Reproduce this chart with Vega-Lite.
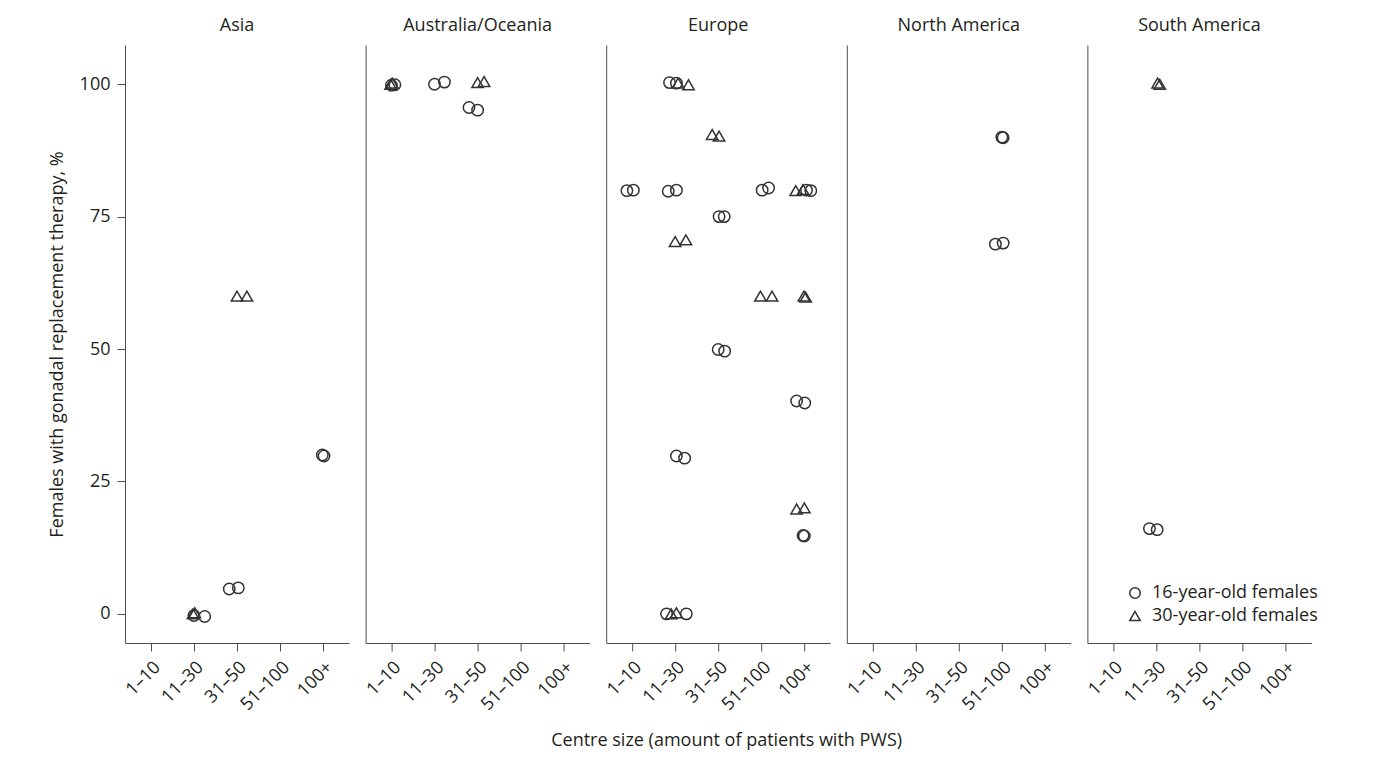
{
  "$schema": "https://vega.github.io/schema/vega-lite/v6.json",
  "padding": {"left": 48, "top": 17, "right": 10, "bottom": 10},
  "background": "white",
  "spacing": 16.6,
  "bounds": "flush",
  "datasets": {
    "pts": [
      {"region": "Asia", "age": "16-year-old females", "centre": 2.0, "pct": -0.3},
      {"region": "Asia", "age": "16-year-old females", "centre": 2.25, "pct": -0.5},
      {"region": "Asia", "age": "30-year-old females", "centre": 1.98, "pct": 0},
      {"region": "Asia", "age": "30-year-old females", "centre": 2.02, "pct": 0.2},
      {"region": "Asia", "age": "16-year-old females", "centre": 2.82, "pct": 4.7},
      {"region": "Asia", "age": "16-year-old females", "centre": 3.03, "pct": 4.9},
      {"region": "Asia", "age": "30-year-old females", "centre": 3.0, "pct": 60},
      {"region": "Asia", "age": "30-year-old females", "centre": 3.23, "pct": 60},
      {"region": "Asia", "age": "16-year-old females", "centre": 4.98, "pct": 30},
      {"region": "Asia", "age": "16-year-old females", "centre": 5.02, "pct": 29.8},

      {"region": "Australia/Oceania", "age": "30-year-old females", "centre": 0.98, "pct": 100},
      {"region": "Australia/Oceania", "age": "30-year-old females", "centre": 1.02, "pct": 100.2},
      {"region": "Australia/Oceania", "age": "16-year-old females", "centre": 1.0, "pct": 99.8},
      {"region": "Australia/Oceania", "age": "16-year-old females", "centre": 1.08, "pct": 99.9},
      {"region": "Australia/Oceania", "age": "16-year-old females", "centre": 2.0, "pct": 100},
      {"region": "Australia/Oceania", "age": "16-year-old females", "centre": 2.23, "pct": 100.4},
      {"region": "Australia/Oceania", "age": "30-year-old females", "centre": 3.0, "pct": 100.3},
      {"region": "Australia/Oceania", "age": "30-year-old females", "centre": 3.15, "pct": 100.5},
      {"region": "Australia/Oceania", "age": "16-year-old females", "centre": 2.8, "pct": 95.6},
      {"region": "Australia/Oceania", "age": "16-year-old females", "centre": 3.0, "pct": 95.1},

      {"region": "Europe", "age": "16-year-old females", "centre": 1.87, "pct": 100.3},
      {"region": "Europe", "age": "16-year-old females", "centre": 2.03, "pct": 100.2},
      {"region": "Europe", "age": "30-year-old females", "centre": 2.07, "pct": 100.2},
      {"region": "Europe", "age": "30-year-old females", "centre": 2.31, "pct": 99.9},
      {"region": "Europe", "age": "30-year-old females", "centre": 2.86, "pct": 90.5},
      {"region": "Europe", "age": "30-year-old females", "centre": 3.02, "pct": 90.2},
      {"region": "Europe", "age": "16-year-old females", "centre": 0.88, "pct": 79.9},
      {"region": "Europe", "age": "16-year-old females", "centre": 1.03, "pct": 80},
      {"region": "Europe", "age": "16-year-old females", "centre": 1.84, "pct": 79.8},
      {"region": "Europe", "age": "16-year-old females", "centre": 2.03, "pct": 80},
      {"region": "Europe", "age": "16-year-old females", "centre": 4.02, "pct": 80},
      {"region": "Europe", "age": "16-year-old females", "centre": 4.17, "pct": 80.4},
      {"region": "Europe", "age": "30-year-old females", "centre": 4.8, "pct": 79.9},
      {"region": "Europe", "age": "30-year-old females", "centre": 4.97, "pct": 80.1},
      {"region": "Europe", "age": "16-year-old females", "centre": 5.05, "pct": 80},
      {"region": "Europe", "age": "16-year-old females", "centre": 5.15, "pct": 79.9},
      {"region": "Europe", "age": "16-year-old females", "centre": 3.02, "pct": 75},
      {"region": "Europe", "age": "16-year-old females", "centre": 3.14, "pct": 75},
      {"region": "Europe", "age": "30-year-old females", "centre": 2.0, "pct": 70.3},
      {"region": "Europe", "age": "30-year-old females", "centre": 2.25, "pct": 70.6},
      {"region": "Europe", "age": "30-year-old females", "centre": 3.98, "pct": 60},
      {"region": "Europe", "age": "30-year-old females", "centre": 4.25, "pct": 60},
      {"region": "Europe", "age": "30-year-old females", "centre": 4.99, "pct": 60},
      {"region": "Europe", "age": "30-year-old females", "centre": 5.03, "pct": 59.8},
      {"region": "Europe", "age": "16-year-old females", "centre": 3.0, "pct": 49.9},
      {"region": "Europe", "age": "16-year-old females", "centre": 3.15, "pct": 49.6},
      {"region": "Europe", "age": "16-year-old females", "centre": 4.82, "pct": 40.2},
      {"region": "Europe", "age": "16-year-old females", "centre": 5.01, "pct": 39.8},
      {"region": "Europe", "age": "16-year-old females", "centre": 2.03, "pct": 29.8},
      {"region": "Europe", "age": "16-year-old females", "centre": 2.22, "pct": 29.4},
      {"region": "Europe", "age": "30-year-old females", "centre": 4.82, "pct": 19.8},
      {"region": "Europe", "age": "30-year-old females", "centre": 5.0, "pct": 20},
      {"region": "Europe", "age": "16-year-old females", "centre": 4.97, "pct": 14.8},
      {"region": "Europe", "age": "16-year-old females", "centre": 5.0, "pct": 14.7},
      {"region": "Europe", "age": "16-year-old females", "centre": 1.8, "pct": 0},
      {"region": "Europe", "age": "16-year-old females", "centre": 2.26, "pct": 0},
      {"region": "Europe", "age": "30-year-old females", "centre": 1.91, "pct": 0},
      {"region": "Europe", "age": "30-year-old females", "centre": 2.03, "pct": 0.2},

      {"region": "North America", "age": "16-year-old females", "centre": 4.0, "pct": 90},
      {"region": "North America", "age": "16-year-old females", "centre": 4.03, "pct": 89.9},
      {"region": "North America", "age": "16-year-old females", "centre": 3.85, "pct": 69.8},
      {"region": "North America", "age": "16-year-old females", "centre": 4.03, "pct": 70},

      {"region": "South America", "age": "30-year-old females", "centre": 2.03, "pct": 100.2},
      {"region": "South America", "age": "30-year-old females", "centre": 2.08, "pct": 100},
      {"region": "South America", "age": "16-year-old females", "centre": 1.84, "pct": 16.1},
      {"region": "South America", "age": "16-year-old females", "centre": 2.02, "pct": 15.9}
    ]
  },
  "hconcat": [
    {
      "width": 224, "height": 598,
      "title": "Asia",
      "data": {"name": "pts"},
      "transform": [{"filter": "datum.region === 'Asia'"}],
      "mark": {"type": "point", "filled": false, "strokeWidth": 1.5, "size": 130, "color": "#333333", "opacity": 1},
      "encoding": {
        "x": {"field": "centre", "type": "quantitative", "scale": {"domain": [0.4, 5.6], "nice": false, "zero": false},
              "axis": {"values": [1, 2, 3, 4, 5], "labelExpr": "['', '1–10', '11–30', '31–50', '51–100', '100+'][datum.value]", "labelAngle": -45, "title": null}},
        "y": {"field": "pct", "type": "quantitative", "scale": {"domain": [-5.5, 107.4], "nice": false, "zero": false},
              "axis": {"values": [0, 25, 50, 75, 100], "title": "Females with gonadal replacement therapy, %", "titlePadding": 13}},
        "shape": {"field": "age", "type": "nominal", "scale": {"domain": ["16-year-old females", "30-year-old females"], "range": ["circle", "triangle-up"]}, "legend": {"title": null}}
      }
    },
    {
      "width": 224, "height": 598,
      "title": "Australia/Oceania",
      "data": {"name": "pts"},
      "transform": [{"filter": "datum.region === 'Australia/Oceania'"}],
      "mark": {"type": "point", "filled": false, "strokeWidth": 1.5, "size": 130, "color": "#333333", "opacity": 1},
      "encoding": {
        "x": {"field": "centre", "type": "quantitative", "scale": {"domain": [0.4, 5.6], "nice": false, "zero": false},
              "axis": {"values": [1, 2, 3, 4, 5], "labelExpr": "['', '1–10', '11–30', '31–50', '51–100', '100+'][datum.value]", "labelAngle": -45, "title": null}},
        "y": {"field": "pct", "type": "quantitative", "scale": {"domain": [-5.5, 107.4], "nice": false, "zero": false},
              "axis": {"labels": false, "ticks": false, "title": null}},
        "shape": {"field": "age", "type": "nominal", "scale": {"domain": ["16-year-old females", "30-year-old females"], "range": ["circle", "triangle-up"]}, "legend": {"title": null}}
      }
    },
    {
      "width": 224, "height": 598,
      "title": "Europe",
      "data": {"name": "pts"},
      "transform": [{"filter": "datum.region === 'Europe'"}],
      "mark": {"type": "point", "filled": false, "strokeWidth": 1.5, "size": 130, "color": "#333333", "opacity": 1},
      "encoding": {
        "x": {"field": "centre", "type": "quantitative", "scale": {"domain": [0.4, 5.6], "nice": false, "zero": false},
              "axis": {"values": [1, 2, 3, 4, 5], "labelExpr": "['', '1–10', '11–30', '31–50', '51–100', '100+'][datum.value]", "labelAngle": -45, "title": "Centre size (amount of patients with PWS)", "titleX": 120, "titlePadding": 18}},
        "y": {"field": "pct", "type": "quantitative", "scale": {"domain": [-5.5, 107.4], "nice": false, "zero": false},
              "axis": {"labels": false, "ticks": false, "title": null}},
        "shape": {"field": "age", "type": "nominal", "scale": {"domain": ["16-year-old females", "30-year-old females"], "range": ["circle", "triangle-up"]}, "legend": {"title": null}}
      }
    },
    {
      "width": 224, "height": 598,
      "title": "North America",
      "data": {"name": "pts"},
      "transform": [{"filter": "datum.region === 'North America'"}],
      "mark": {"type": "point", "filled": false, "strokeWidth": 1.5, "size": 130, "color": "#333333", "opacity": 1},
      "encoding": {
        "x": {"field": "centre", "type": "quantitative", "scale": {"domain": [0.4, 5.6], "nice": false, "zero": false},
              "axis": {"values": [1, 2, 3, 4, 5], "labelExpr": "['', '1–10', '11–30', '31–50', '51–100', '100+'][datum.value]", "labelAngle": -45, "title": null}},
        "y": {"field": "pct", "type": "quantitative", "scale": {"domain": [-5.5, 107.4], "nice": false, "zero": false},
              "axis": {"labels": false, "ticks": false, "title": null}},
        "shape": {"field": "age", "type": "nominal", "scale": {"domain": ["16-year-old females", "30-year-old females"], "range": ["circle", "triangle-up"]}, "legend": {"title": null}}
      }
    },
    {
      "width": 224, "height": 598,
      "title": "South America",
      "data": {"name": "pts"},
      "transform": [{"filter": "datum.region === 'South America'"}],
      "mark": {"type": "point", "filled": false, "strokeWidth": 1.5, "size": 130, "color": "#333333", "opacity": 1},
      "encoding": {
        "x": {"field": "centre", "type": "quantitative", "scale": {"domain": [0.4, 5.6], "nice": false, "zero": false},
              "axis": {"values": [1, 2, 3, 4, 5], "labelExpr": "['', '1–10', '11–30', '31–50', '51–100', '100+'][datum.value]", "labelAngle": -45, "title": null}},
        "y": {"field": "pct", "type": "quantitative", "scale": {"domain": [-5.5, 107.4], "nice": false, "zero": false},
              "axis": {"labels": false, "ticks": false, "title": null}},
        "shape": {"field": "age", "type": "nominal", "scale": {"domain": ["16-year-old females", "30-year-old females"], "range": ["circle", "triangle-up"]}, "legend": {"title": null}}
      }
    }
  ],
  "config": {
    "font": "Open Sans",
    "view": {"stroke": null},
    "axis": {
      "grid": false,
      "domainColor": "#4d4d4d",
      "tickColor": "#4d4d4d",
      "tickSize": 8,
      "labelPadding": 7,
      "labelOverlap": false,
      "labelFlush": false,
      "labelFont": "Open Sans",
      "labelFontSize": 18,
      "labelColor": "#231f20",
      "titleFont": "Open Sans",
      "titleFontSize": 18,
      "titleFontWeight": "normal",
      "titleColor": "#231f20"
    },
    "title": {"font": "Open Sans", "fontSize": 18, "fontWeight": "normal", "color": "#231f20", "offset": 10},
    "legend": {
      "orient": "none",
      "legendX": 1001,
      "legendY": 539,
      "labelFont": "Open Sans",
      "labelFontSize": 18,
      "labelLimit": 400,
      "labelColor": "#231f20",
      "symbolStrokeColor": "#333333",
      "symbolStrokeWidth": 1.5,
      "symbolSize": 110,
      "rowPadding": 5,
      "labelOffset": 8
    }
  }
}
